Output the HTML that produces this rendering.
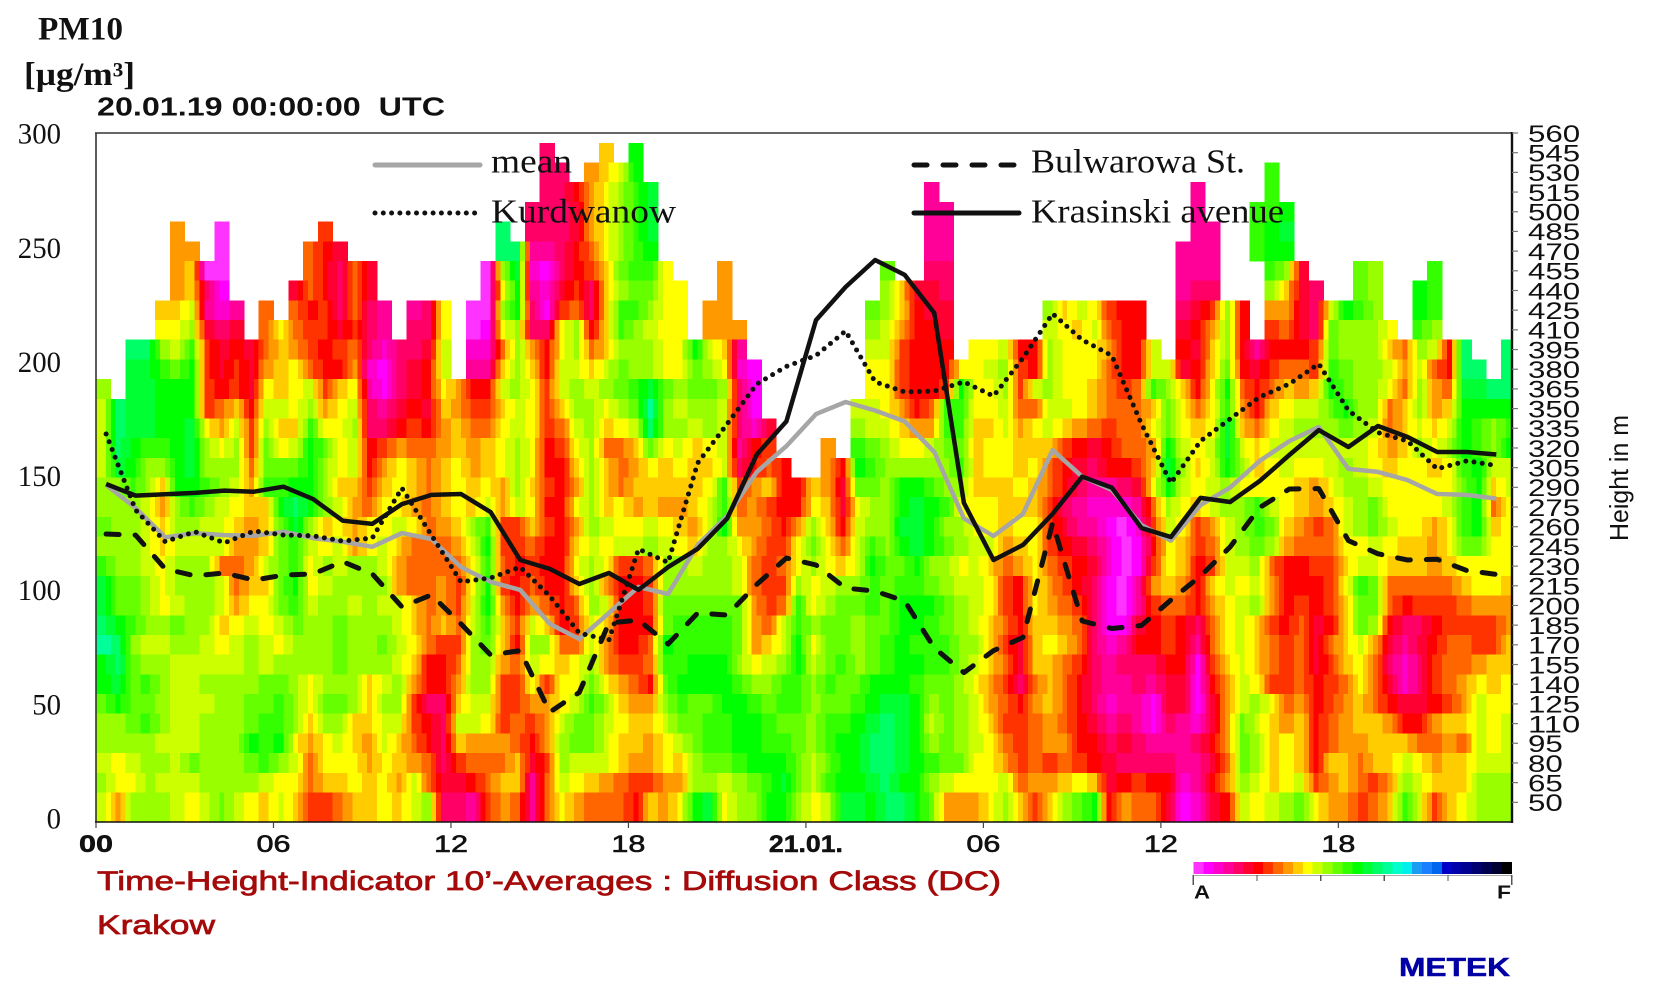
<!DOCTYPE html>
<html lang="en">
<head>
<meta charset="utf-8">
<title>PM10 and Diffusion Class, Krakow</title>
<style>
html,body{margin:0;padding:0;background:#fff;width:1656px;height:994px;overflow:hidden}
svg{display:block}
.sans{font-family:"Liberation Sans",sans-serif}
.serif{font-family:"Liberation Serif",serif}
</style>
</head>
<body>
<svg id="chart" xmlns="http://www.w3.org/2000/svg" width="1656" height="994" viewBox="0 0 1656 994">
  <defs><clipPath id="plot-clip"><rect x="96" y="133" width="1416" height="689"/></clipPath></defs>
  <rect x="0" y="0" width="1656" height="994" fill="#fff"/>

  <text class="serif" x="38" y="39.5" font-size="33" font-weight="bold" textLength="85" lengthAdjust="spacingAndGlyphs" fill="#111">PM10</text>
  <text class="serif" x="24" y="85" font-size="33" font-weight="bold" textLength="111" lengthAdjust="spacingAndGlyphs" fill="#111">[µg/m³]</text>
  <text class="sans" x="97" y="115.5" font-size="26" font-weight="bold" textLength="348" lengthAdjust="spacingAndGlyphs" fill="#111" xml:space="preserve">20.01.19 00:00:00  UTC</text>

  <g id="heatmap" clip-path="url(#plot-clip)" shape-rendering="crispEdges"></g>
  <g id="series" clip-path="url(#plot-clip)"></g>

  <g id="axes"></g>

  <g>
    <line x1="375" y1="165" x2="480" y2="165" stroke="#a6a6a6" stroke-width="5" stroke-linecap="round"/>
    <text class="serif" x="491" y="172.7" font-size="34" textLength="81" lengthAdjust="spacingAndGlyphs" fill="#111">mean</text>
    <line x1="375" y1="213" x2="479" y2="213" stroke="#111" stroke-width="5" stroke-linecap="round" stroke-dasharray="0 8.3"/>
    <text class="serif" x="491" y="222.7" font-size="34" textLength="185" lengthAdjust="spacingAndGlyphs" fill="#111">Kurdwanow</text>
    <line x1="914" y1="165" x2="1014" y2="165" stroke="#111" stroke-width="5" stroke-linecap="round" stroke-dasharray="13 16"/>
    <text class="serif" x="1031" y="172.7" font-size="34" textLength="214" lengthAdjust="spacingAndGlyphs" fill="#111">Bulwarowa St.</text>
    <line x1="914" y1="213" x2="1019" y2="213" stroke="#111" stroke-width="5" stroke-linecap="round"/>
    <text class="serif" x="1031" y="222.7" font-size="34" textLength="253" lengthAdjust="spacingAndGlyphs" fill="#111">Krasinski avenue</text>
  </g>

  <text class="sans" transform="translate(1628,541) rotate(-90)" font-size="26" textLength="126" lengthAdjust="spacingAndGlyphs" fill="#111">Height in m</text>

  <text class="sans" x="97" y="890" font-size="27" textLength="904" lengthAdjust="spacingAndGlyphs" fill="#a50a0a" stroke="#a50a0a" stroke-width="0.7">Time-Height-Indicator 10’-Averages : Diffusion Class (DC)</text>
  <text class="sans" x="97" y="934" font-size="27" textLength="118" lengthAdjust="spacingAndGlyphs" fill="#a50a0a" stroke="#a50a0a" stroke-width="0.7">Krakow</text>
  <text class="sans" x="1399" y="976" font-size="26" font-weight="bold" textLength="111" lengthAdjust="spacingAndGlyphs" fill="#0000a5" stroke="#0000a5" stroke-width="0.5">METEK</text>

  <g id="colorbar" shape-rendering="crispEdges"></g>
  <text class="sans" x="1194" y="898.5" font-size="18" font-weight="bold" textLength="16" lengthAdjust="spacingAndGlyphs" fill="#111">A</text>
  <text class="sans" x="1497" y="898.5" font-size="18" font-weight="bold" textLength="14" lengthAdjust="spacingAndGlyphs" fill="#111">F</text>
</svg>

<script>
var NS = 'http://www.w3.org/2000/svg';

/* ---------- chart data ---------- */
var colorScale = ['#ff33ff','#ff00ff','#ff00cc','#ff0099','#ff0066','#ff0033','#ff0000','#ff3300','#ff6600','#ff9900','#ffcc00','#ffff00','#ccff00','#99ff00','#66ff00','#33ff00','#00ff00','#00ff33','#00ff66','#00ff99','#00ffcc','#00eeee','#1a9cf0','#1a80ff','#0066ee','#0000c8','#0000aa','#000090','#000070','#000050','#000030','#000000'];
var scaleLetters = 'abcdefghijklmnopqrst';

var heightGates = [545,530,515,500,485,470,455,440,425,410,395,380,365,350,335,320,305,290,275,260,245,230,215,200,185,170,155,140,125,110,95,80,65,50];

/* one string per height gate; one letter per half hour (index into scaleLetters), "." = no data; blocks are 6 h */
var heatRows = [
"............ ............ ......e...k. q........... ............ ............ ............ ............",
"............ ............ ......ee.jkm q........... ............ ............ .......p.... ............",
"............ ............ ......eegjln pr.......... ........d... ............ ..d....p.... ............",
"............ ............ .....eeefjln pr.......... ........dd.. ............ ..d...ppq... ............",
".....j..a... ...h........ ...s.eeefjln pr.......... ........dd.. ............ ..dd..pqr... ............",
".....jj.a... ..igf....... ...ssddegiln pq.......... ........dd.. ............ .ddd..pqq... ............",
".....jkaa... ..igeif..... ..anrcbeghko ppl...j..... .....o..ee.. ............ .ddd...pnf.. .on...p.....",
".....jkeb... .figeif..... ..alqdcfhekn ooll..j..... .....nkffe.. ............ .dee...nkfe. .on..qp.....",
"....kkmdcd.i .igheied.del .aanqebhiekp pnll.jj..... ....onkgff.. ....nkmlhgg. .efhng.jjfem qpn..qp.....",
"....llnfef.i lihhfhed.eel .ablneelngkp nmll.jjj.... ....nmjggf.. ....mlkmigg. .fgjng.hifeo nnnl.pn.....",
"..ssnmphfgfi kjhghieceefm .ccinjglnikn nnllqmkd.... ....mmhggg.l lmggnllljggm .gfkngdgggho nnnkinmgs..s",
"..rrpoqhfhfj kliggjcbefgm .ddknkgmmkmo nnllonlcb... ....llhgggll mnhgnllliggm mfgkogfhiihp onnmjmigss.s",
"n.rrqqqhghfl klmhkldbefgl jggmnlhmnmno pronooneb... ....llhgghql lnhmnllkihip nkglqigikjkq onnlinjirrss",
"msrrqqqhikgm mlnjlmedfgfk jhhkmlhknnln otnmnnmeb... ...mmljgippl lmiimmlkiiik olilpjgklmmo qnniknjkqqqq",
"msrrqqrljmhn kkpllneeghgj kiilmlhimnkl msnnmnmecf.. ...nmmkjjppk kmjlmkjihiil olklrkilmnnn onmikmkmqpnp",
"msqppqrnlnho lmqolmghjiij kjklnlghlnii kolmklmdgh.. .j.ponllmook llkkkhgfgiij qmlmrmkmmmmm mmljknlnqpnq",
"mrqnnqrnnnio ooqnlmgjlkik ljklnlggknki jlklkkmegig. .jgqpnnnnnpk llkligfegghk rnkmqnklmllm nmlkllklpqmm",
"nnpnkqqpnmjp pqqnkkhklkik lkljnkhgjnki kkkkklphjkgg kjfoonqqpnnk kklkigeddefl qmlmnllllkjl nnmllllloqkm",
"nnnmjnpnmlkk qsqnmjilljik lkmjmlgglnkl jkjjkmpijhgg lkflnnqrqpll lkkkhedcccdi nlkmnnpmlkjk mnollllmpqil",
"onnmknnmmkjk ornkljllmlij knphhkhgjnml lmlkjmqjjigj nkgmnnrrqnnl lkllhfddbach mlhjmnpokjhi mnomlljlpqkl",
"nnnmkmmmmjjk opmlmjlmkiii jmqhhiggkmlm mnmlknnljhhl olimpnqrqonm mjklhgfecabg lkhimnonjiii llmlkkjlooll",
"pnnmlnnniijm oplnmnnmjiii ilpighgglnlh hinnmnnmihil nlkmqooqnnlm kijlihgfcabh lkghmmnigghh kmmkkkjkllll",
"roonlnnnmikk oqlmnnnnjiij hlqhgiggknjg ghnnnnnmihhn lmnnpopponmm lhgljhgebadj kjgkmlmjgggh lpoiiiiikllk",
"roonlmnnmjll opmnnmnmmkij hmqjgjiginmg ghoooooojhip lnoopoqqqonm lhgljihebadh iigjlmnjghgh kooighhhijjj",
"sqpnnonnklml monnonnnmkik impkhmkghmkg ggoppppojimp noonooqqponm kigkkjiebbfg hgeilmkhgifg kongeeghhhhj",
"tsnmmnnmlmnm lnnnonnomlih hnokgnniimjg giqppppojkmq loonopqpppnn khfklkiecdgg hgdilmkihifi kmjfdfgiihhk",
"qsonnmmmmmnm nnnnonnnmkgg innjimlklnjh hippqqqnlmnq mopnopqqppnm kifkkihedeee ggbhkmkihifh kliecehiijkk",
"qropnmmnnnno onlnnnkmnjgg jnnhhlhllolj igoqqqqpnnpp npooqqqpoonl jheikigedded ffbgjmlhhigh ilifcehijlkl",
"oqoonmmmnnoo pnloonknnhee kmmhhjjlmpnk jjnpooqqpopp noopqrrqnonm jigjkigecddb ffbfjmnlijgh jkigffghjmll",
"nnopnmmnnnop pnknnkkmmhge mmlhihjmooml kkmooppqqpoo nppqrsrqmonm khhijigfdedb edcfjomkjkgi jkkjggjkkmlm",
"nnnnmmmnnnqp qljlmkjmkige kjjjigjnoomk kjlmoppqqppo npqqssrqnonm lihijjggefed ddegjonklkgi jjkkkiijimlm",
"mlmnnmonnnop nmillljlkjie hiiikfhnmmmk jjlknoopqqqo moqqssrqpool ljhihihgfeee eddfionklkgk kikkmljkkmmm",
"nllnmmmnnnnm llikklkljmif fgikkdimlkji hhjjnnmnopro mpqqrsqqnmll lmijjklkfghg gcdgjnmklmhj kihjnmkkknnn",
"mjnnnmlmomlk mkhhikklkmne edhjidiljiii gkjlqrlnnqqn lmrrqssqojjj lnkhknoqgjii fbcfgmlmnolj jhikpmhklnnn"
];

var meanValues = [147,136.9,124,125.9,125,124.7,126.5,123.7,122.1,119.9,125.9,123.3,111,104.5,101,86.1,79.5,90.9,102.3,99.2,120.7,133.4,152.7,164,178,183.3,179.6,174.8,161.4,132.3,124.6,134.3,162.3,150.6,144.8,129.4,122.6,138.2,145.8,157.5,166.2,172.4,154,152.7,149.1,143,142.6,141];
var kurdwanowValues = [169.3,136,122.1,126.5,121.6,126.8,125,124.7,122.4,123.7,145.6,125,104.5,106.2,111,98.3,82.1,79,118.9,113,156.6,173.7,191.2,198.9,203.7,214.4,192.1,187.7,188.1,192.1,185.9,202.6,222,210.5,203.7,173.7,147.8,166.2,175.9,185.5,191.2,200,179.6,169.9,166.2,154,157.5,155.5];
var bulwarowaValues = [125.5,125,110.2,107.2,108.4,105.3,107.5,108,113.4,108,93.6,98.8,86.1,72.5,74.4,47.5,56.1,86.5,87.8,77.3,90.9,90,103.4,115,111.9,101.8,100.5,96.1,75.6,64.8,74.4,80.2,130.3,87.4,84.1,85.4,96.6,107.1,119.8,137.1,145.2,145.4,122.6,116.8,114.1,114.4,109.5,107.8];
var krasinskiValues = [147.4,142.3,142.9,143.5,144.5,144,146.2,140.8,131.3,129.9,138.6,142.6,143,135.1,114.1,110.2,103.6,108.4,101,111,119,132.3,160.3,174.8,219.2,233.7,245.5,239,222.3,139.1,114.1,120.7,134.3,150.6,145.8,128.1,124.2,141.3,139.5,148.7,160.1,171,163.6,172.8,168,161.4,161.4,160.3];

var pmTicks = [300,250,200,150,100,50,0];
var heightTicks = [560,545,530,515,500,485,470,455,440,425,410,395,380,365,350,335,320,305,290,275,260,245,230,215,200,185,170,155,140,125,110,95,80,65,50];
var timeTickHours = [0,6,12,18,24,30,36,42];
var timeTickLabels = ['00','06','12','18','21.01.','06','12','18'];

/* ---------- axis functions ---------- */
function xTime(hours){ return 96 + hours * 29.58; }
function yPM(value){ return 820.5 - value * 2.283; }
function yHeight(h){ return 133 + (560 - h) / 15 * 19.686; }

function make(tag, attrs, parent){
  var el = document.createElementNS(NS, tag);
  for (var k in attrs) el.setAttribute(k, attrs[k]);
  parent.appendChild(el);
  return el;
}

/* ---------- heatmap: each half-hour value is drawn as three 10-minute columns, blended with its neighbours ---------- */
var heatGroup = document.getElementById('heatmap');
heatRows.forEach(function(row, r){
  var cells = row.replace(/ /g, '');
  var h = heightGates[r];
  var top = yHeight(h) - 9.843;
  var bottom = r === heatRows.length - 1 ? 824 : yHeight(h) + 9.843;
  function valueAt(c){
    if (c < 0 || c >= cells.length) return -1;
    return scaleLetters.indexOf(cells.charAt(c));
  }
  for (var c = 0; c < cells.length; c++){
    var v = valueAt(c);
    if (v < 0) continue;
    var vl = valueAt(c - 1);
    var vr = valueAt(c + 1);
    var parts = [
      vl < 0 ? v : Math.round((2 * v + vl) / 3),
      v,
      vr < 0 ? v : Math.round((2 * v + vr) / 3)
    ];
    for (var s = 0; s < 3; s++){
      var x0 = xTime(c * 0.5 + s / 6);
      var x1 = xTime(c * 0.5 + (s + 1) / 6);
      var cell = make('rect', {x: x0, y: top, width: x1 - x0 + 0.4, height: bottom - top + 0.4, fill: colorScale[parts[s]]}, heatGroup);
      
      
    }
  }
});

/* ---------- series lines ---------- */
var seriesGroup = document.getElementById('series');
function drawLine(values, name, color, width, dash){
  var pts = values.map(function(v, i){ return xTime(i + 0.34).toFixed(1) + ',' + yPM(v).toFixed(1); }).join(' ');
  var line = make('polyline', {points: pts, fill: 'none', stroke: color, 'stroke-width': width, 'stroke-linejoin': 'round', 'stroke-linecap': dash ? 'round' : 'butt'}, seriesGroup);
  if (dash) line.setAttribute('stroke-dasharray', dash);
  
  
}
drawLine(meanValues, 'series-mean', '#a6a6a6', 4.5, null);
drawLine(kurdwanowValues, 'series-kurdwanow', '#111', 5, '0 8.3');
drawLine(bulwarowaValues, 'series-bulwarowa', '#111', 5, '13 16');
drawLine(krasinskiValues, 'series-krasinski', '#111', 4.5, null);

/* ---------- axes ---------- */
var axes = document.getElementById('axes');
var frameTop = make('line', {x1: 95, y1: 133, x2: 1513, y2: 133, stroke: '#333', 'stroke-width': 1.6}, axes);


var frameLeft = make('line', {x1: 96, y1: 133, x2: 96, y2: 823, stroke: '#333', 'stroke-width': 1.6}, axes);


var frameBottom = make('line', {x1: 95, y1: 822, x2: 1513, y2: 822, stroke: '#111', 'stroke-width': 1.6}, axes);


var frameRight = make('line', {x1: 1512, y1: 132, x2: 1512, y2: 823, stroke: '#111', 'stroke-width': 2.4}, axes);



pmTicks.forEach(function(v){
  var s = String(v);
  var t = make('text', {x: 61, y: yPM(v) + 8, 'text-anchor': 'end', 'font-size': 30, fill: '#111', 'class': 'serif', textLength: s.length * 14.4, lengthAdjust: 'spacingAndGlyphs'}, axes);
  t.textContent = s;
  
  
});

heightTicks.forEach(function(h){
  var y = yHeight(h);
  var tick = make('line', {x1: 1512, y1: y, x2: 1518, y2: y, stroke: '#777', 'stroke-width': 1.2}, axes);
  
  
  var s = String(h);
  var t = make('text', {x: 1528, y: y + 8.8, 'font-size': 24.5, fill: '#111', 'class': 'sans', textLength: s.length * 17.4, lengthAdjust: 'spacingAndGlyphs'}, axes);
  t.textContent = s;
  
  
});

timeTickHours.forEach(function(hr, i){
  var x = xTime(hr);
  var tick = make('line', {x1: x, y1: 822, x2: x, y2: 828, stroke: '#444', 'stroke-width': 1.2}, axes);
  
  
  var s = timeTickLabels[i];
  var w = s.length > 2 ? 74 : 34;
  var t = make('text', {x: x - w / 2, y: 852, 'font-size': 24, 'font-weight': (i === 0 || i === 4) ? 'bold' : 'normal', fill: '#111', 'class': 'sans', textLength: w, lengthAdjust: 'spacingAndGlyphs', stroke: '#111', 'stroke-width': (i === 0 || i === 4) ? 0.5 : 0.6}, axes);
  t.textContent = s;
  
  
});

/* ---------- colour bar ---------- */
var bar = document.getElementById('colorbar');
var barLeft = 1193.3, barWidth = 318.4;
colorScale.forEach(function(col, i){
  var sw = make('rect', {x: barLeft + i * barWidth / colorScale.length, y: 862, width: barWidth / colorScale.length + 0.5, height: 12, fill: col}, bar);
  
  
});
var barBase = make('line', {x1: barLeft, y1: 875.5, x2: barLeft + barWidth, y2: 875.5, stroke: '#aaa', 'stroke-width': 1.4}, bar);


[0,1,2,3,4,5].forEach(function(n){
  var x = barLeft + n * barWidth / 5;
  var long = n === 0 || n === 5;
  var tick = make('line', {x1: x, y1: 875, x2: x, y2: long ? 885 : 881, stroke: '#555', 'stroke-width': 1.2}, bar);
  
  
});
</script>
</body>
</html>
